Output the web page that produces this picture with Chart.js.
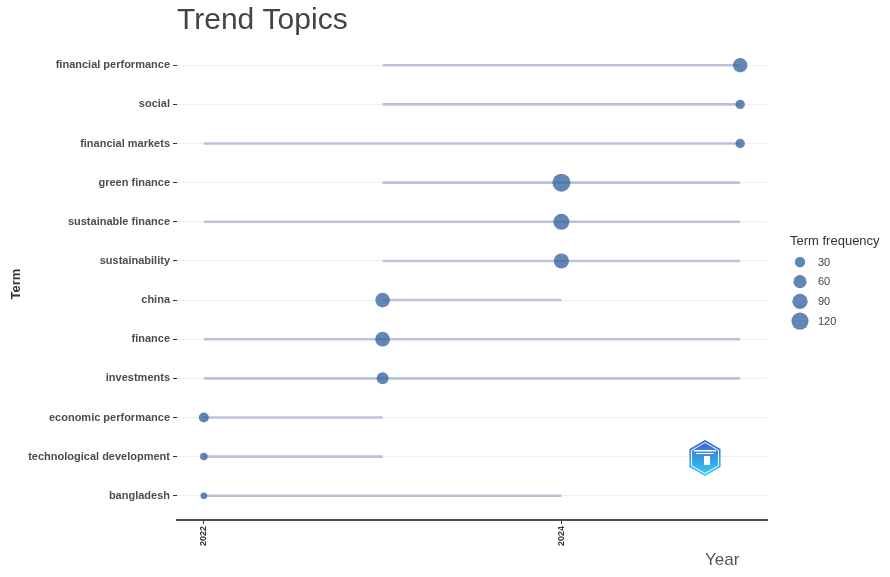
<!DOCTYPE html>
<html>
<head>
<meta charset="utf-8">
<script src="https://cdn.jsdelivr.net/npm/chart.js@4.4.1/dist/chart.umd.min.js"></script>
<style>
  body { margin: 0; background: #fff; }
  #wrap { width: 890px; height: 577px; }
</style>
</head>
<body>
<div id="wrap"><canvas id="trendChart" width="890" height="577"></canvas></div>
<script>
// terms top to bottom
const terms = [
  'financial performance', 'social', 'financial markets', 'green finance',
  'sustainable finance', 'sustainability', 'china', 'finance',
  'investments', 'economic performance', 'technological development', 'bangladesh'
];
const yearQ1 =     [2023, 2023, 2022, 2023, 2022, 2023, 2023, 2022, 2022, 2022, 2022, 2022];
const yearMedian = [2025, 2025, 2025, 2024, 2024, 2024, 2023, 2023, 2023, 2022, 2022, 2022];
const yearQ3 =     [2025, 2025, 2025, 2025, 2025, 2025, 2024, 2025, 2025, 2023, 2023, 2024];
const termFreq =   [85, 27, 27, 145, 110, 95, 88, 90, 52, 32, 13, 9];
const legendBreaks = [30, 60, 90, 120];
const xTicks = [2022, 2024];

const FONT = '"Liberation Sans", Arial, sans-serif';
const DOT = 'rgba(55, 100, 160, 0.78)';
const SEG = '#bac2da';

const radiusFor = f => 1.5 + 0.62 * Math.sqrt(f);

const segments = terms.map((t, i) => ({
  type: 'line',
  data: [{ x: yearQ1[i], y: i }, { x: yearQ3[i], y: i }],
  borderColor: SEG,
  borderWidth: 2.6,
  pointRadius: 0,
  showLine: true,
  order: 1
}));

const medians = {
  type: 'scatter',
  data: terms.map((t, i) => ({ x: yearMedian[i], y: i })),
  backgroundColor: DOT,
  borderWidth: 0,
  pointRadius: ctx => radiusFor(termFreq[ctx.dataIndex]),
  order: 0
};

const decor = {
  id: 'decor',
  afterDraw(chart) {
    const ctx = chart.ctx;
    const area = chart.chartArea;
    ctx.save();
    // title
    ctx.fillStyle = '#444';
    ctx.font = '30px ' + FONT;
    ctx.textAlign = 'left';
    ctx.textBaseline = 'alphabetic';
    ctx.fillText('Trend Topics', area.left, 29);
    // x title
    ctx.fillStyle = '#555';
    ctx.font = '17px ' + FONT;
    ctx.fillText('Year', 705, 565);
    // y title
    ctx.save();
    ctx.translate(20, 284);
    ctx.rotate(-Math.PI / 2);
    ctx.fillStyle = '#333';
    ctx.font = 'bold 13px ' + FONT;
    ctx.textAlign = 'center';
    ctx.fillText('Term', 0, 0);
    ctx.restore();
    // size legend
    ctx.fillStyle = '#333';
    ctx.font = '13px ' + FONT;
    ctx.textAlign = 'left';
    ctx.fillText('Term frequency', 790, 245);
    ctx.font = '11px ' + FONT;
    legendBreaks.forEach((b, i) => {
      const cy = 262 + i * 19.7;
      ctx.beginPath();
      ctx.arc(800, cy, radiusFor(b) + 0.3, 0, Math.PI * 2);
      ctx.fillStyle = DOT;
      ctx.fill();
      ctx.fillStyle = '#444';
      ctx.textBaseline = 'middle';
      ctx.fillText(String(b), 818, cy + 0.5);
    });
    // small hexagon badge (pointy top)
    const hx = 705, hy = 458, hr = 18;
    const hex = r => {
      ctx.beginPath();
      for (let k = 0; k < 6; k++) {
        const a = -Math.PI / 2 + k * Math.PI / 3;
        const px = hx + r * Math.cos(a);
        const py = hy + r * Math.sin(a);
        k === 0 ? ctx.moveTo(px, py) : ctx.lineTo(px, py);
      }
      ctx.closePath();
    };
    const g = ctx.createLinearGradient(hx, hy - hr, hx, hy + hr);
    g.addColorStop(0, '#3a5fd0');
    g.addColorStop(1, '#38d0f5');
    hex(hr);
    ctx.fillStyle = g;
    ctx.fill();
    hex(hr - 2.5);
    ctx.strokeStyle = '#ffffff';
    ctx.lineWidth = 1;
    ctx.stroke();
    ctx.fillStyle = '#ffffff';
    ctx.fillRect(hx - 11, hy - 8, 22, 1.5);
    ctx.fillRect(hx - 9, hy - 5, 18, 1);
    ctx.fillRect(hx - 1, hy - 2, 6, 9);
    ctx.restore();
  }
};

new Chart(document.getElementById('trendChart'), {
  type: 'scatter',
  data: { datasets: [medians, ...segments] },
  options: {
    responsive: false,
    animation: false,
    devicePixelRatio: 1,
    layout: { padding: { top: 41, right: 123, bottom: 0, left: 0 } },
    plugins: {
      legend: { display: false },
      tooltip: { enabled: false }
    },
    scales: {
      x: {
        type: 'linear',
        min: 2021.85,
        max: 2025.15,
        afterBuildTicks: axis => { axis.ticks = xTicks.map(v => ({ value: v })); },
        afterFit: scale => { scale.height = 57; },
        ticks: {
          minRotation: 90,
          maxRotation: 90,
          padding: 2,
          color: '#333',
          font: { family: FONT, size: 9, weight: 'bold' },
          callback: v => String(v)
        },
        grid: { drawOnChartArea: false, tickLength: 4, tickColor: '#333' },
        border: { display: true, color: '#4d4d4d', width: 2 }
      },
      y: {
        type: 'linear',
        reverse: true,
        min: -0.62,
        max: 11.62,
        afterBuildTicks: axis => { axis.ticks = terms.map((t, i) => ({ value: i })); },
        afterFit: scale => { scale.width = 177; },
        ticks: {
          padding: 3,
          color: '#4d4d4d',
          font: { family: FONT, size: 11, weight: 'bold' },
          callback: v => terms[v]
        },
        grid: { color: '#efefef', lineWidth: 1, tickLength: 4, tickColor: '#333' },
        border: { display: false }
      }
    }
  },
  plugins: [decor]
});
</script>
</body>
</html>
